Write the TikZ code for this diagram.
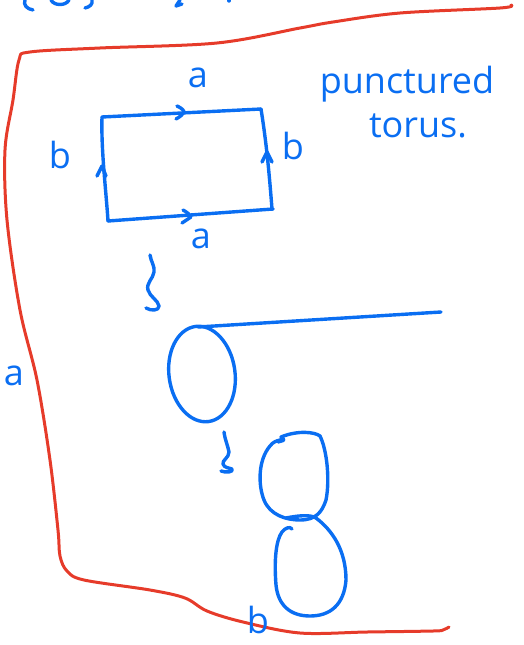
\documentclass[tikz,border=0pt]{standalone}
\usepackage{fontspec}
\setmainfont{Open Sans}
\definecolor{penblue}{HTML}{0A6EF2}
\definecolor{penred}{HTML}{E63B2A}
\begin{document}
\begin{tikzpicture}[x=1pt,y=-1pt,
  bluepen/.style={draw=penblue,line width=3.4pt,line cap=round,line join=round},
  redpen/.style={draw=penred,line width=3pt,line cap=round,line join=round},
  lbl/.style={text=penblue,font=\fontsize{36}{38}\selectfont,inner sep=0pt}]
\useasboundingbox (0,0) rectangle (524,645);

% strokes cut off at the top edge
\draw[bluepen] (25,0) .. controls (23,5) and (27,9) .. (33,10);
\draw[bluepen] (51,0) .. controls (54,6) and (66,6) .. (69,0);
\draw[bluepen] (92,0) .. controls (93,4) and (90,7) .. (85,8);
\draw[bluepen] (180,0) -- (176,6) -- (182,4);
\draw[bluepen] (229,0) -- (229,1);

% red boundary
\draw[redpen] plot[smooth,tension=0.55] coordinates {
  (511,5) (500,8) (400,13) (333,22) (300,28) (217,43) (100,48) (30,52)
  (19,60) (13,100) (5,150) (7,220) (20,310) (37,380) (50,460) (58,530)
  (60,556) (67,571) (84,580) (150,590) (185,598) (207,611) (243,622)
  (300,633) (367,632) (433,631) (443,630) (449,627)};

% square with edge identifications
\coordinate (tl) at (102,117);
\coordinate (tr) at (261,109);
\coordinate (br) at (273,209);
\coordinate (bl) at (108,221);
\draw[bluepen] (tl) -- (tr);
\draw[bluepen] (tr) .. controls (266,140) and (269,170) .. (272,209) -- (br);
\draw[bluepen] (bl) -- (br);
\draw[bluepen] (bl) .. controls (106,190) and (101,150) .. (tl);
% chevrons
\draw[bluepen] (177,106) .. controls (182,108) and (184,111) .. (184,112) .. controls (183,114) and (180,117) .. (176,119);
\draw[bluepen] (183,210) .. controls (187,212) and (190,215) .. (191,217) .. controls (188,219) and (185,221) .. (182,223);
\draw[bluepen] (97,176) -- (102,166) -- (106,176);
\draw[bluepen] (262,162) -- (267,152) -- (272,162);

\node[lbl] (atop) at (198,78) {a};
\node[lbl] (abot) at (201,239) {a};
\node[lbl] (bleft) at (60,155) {b};
\node[lbl] (bright) at (293,146) {b};
\node[lbl] (punct) at (407,84) {punctured};
\node[lbl] (torus) at (418,126) {torus.};
\node[lbl] (aside) at (14,376) {a};
\node[lbl,anchor=base] (bside) at (258,633) {b};

% first squiggle
\draw[bluepen] (150,255) .. controls (151,262) and (155,266) .. (154,272)
  .. controls (153,279) and (146,283) .. (148,290)
  .. controls (150,297) and (158,300) .. (159,306)
  .. controls (159,311) and (151,311) .. (146,308);

% circle with a tail
\draw[bluepen,rotate around={8:(202,374)}] (202,374) ellipse [x radius=33,y radius=48];
\draw[bluepen] (198,327) -- (441,312);

% second squiggle
\draw[bluepen] (224,432) .. controls (225,440) and (228,446) .. (229,452)
  .. controls (229,458) and (222,460) .. (223,464)
  .. controls (224,468) and (230,468) .. (232,469)
  .. controls (234,472) and (226,473) .. (221,471);

% figure eight
\draw[bluepen] (278,442) .. controls (284,440) and (286,441) .. (281,437)
  .. controls (298,430) and (315,432) .. (320,436)
  .. controls (327,450) and (330,480) .. (326,500)
  .. controls (322,512) and (316,520) .. (300,520)
  .. controls (286,520) and (270,515) .. (264,500)
  .. controls (258,485) and (258,460) .. (270,446)
  .. controls (273,442) and (276,441) .. (280,440);
\draw[bluepen] (286,518) .. controls (296,516) and (310,514) .. (316,518)
  .. controls (332,530) and (346,550) .. (346,580)
  .. controls (344,605) and (330,616) .. (310,616)
  .. controls (290,616) and (278,605) .. (276,585)
  .. controls (274,560) and (276,540) .. (282,532)
  .. controls (285,528) and (290,526) .. (292,529);
\end{tikzpicture}
\end{document}
